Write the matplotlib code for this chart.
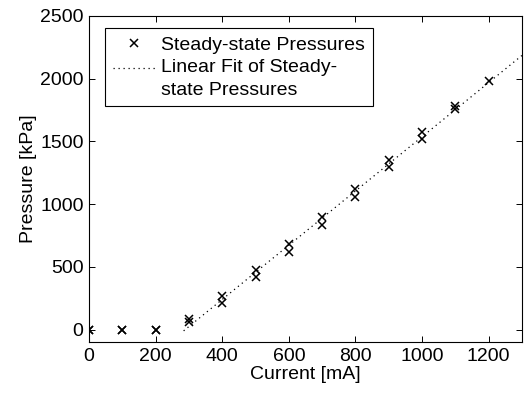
import matplotlib
matplotlib.use("Agg")
import matplotlib.pyplot as plt
from matplotlib.legend_handler import HandlerLine2D

# Measured steady-state pressures (two trials per current setting)
current_ma = [0, 0, 100, 100, 200, 200,
              300, 300, 400, 400, 500, 500,
              600, 600, 700, 700, 800, 800,
              900, 900, 1000, 1000, 1100, 1100, 1200]
pressure_kpa = [0, 0, 0, 0, 0, 0,
                88, 58, 268, 215, 472, 420,
                680, 622, 895, 835, 1120, 1060,
                1350, 1298, 1572, 1520, 1778, 1755, 1982]

# Linear fit endpoints
fit_current = [284, 1300]
fit_pressure = [-10, 2184]

xticks = [0, 200, 400, 600, 800, 1000, 1200]
yticks = [0, 500, 1000, 1500, 2000, 2500]

plt.rcParams["font.family"] = ["Liberation Sans", "DejaVu Sans"]
plt.rcParams["font.size"] = 14


class FirstLineHandler(HandlerLine2D):
    """Place the legend line level with the first line of a two-line label."""

    def __init__(self, shift, **kw):
        super().__init__(**kw)
        self.shift = shift

    def create_artists(self, legend, orig_handle, xdescent, ydescent,
                       width, height, fontsize, trans):
        arts = super().create_artists(legend, orig_handle, xdescent,
                                      ydescent, width, height, fontsize,
                                      trans)
        for a in arts:
            y = a.get_ydata()
            a.set_ydata([v + self.shift for v in y])
        return arts


fig = plt.figure(figsize=(5.24, 3.96), dpi=100)
ax = fig.add_axes([0.170, 0.136, 0.826, 0.824])

ax.plot(current_ma, pressure_kpa, linestyle="none", marker="x",
        markersize=6, markeredgewidth=1.1, color="black",
        label="Steady-state Pressures")
fit_line, = ax.plot(fit_current, fit_pressure, color="black",
                    linewidth=0.9, linestyle=(0, (1, 3)),
                    label="Linear Fit of Steady-\nstate Pressures")

ax.set_xlim(0, 1300)
ax.set_ylim(-100, 2500)
ax.set_xticks(xticks)
ax.set_yticks(yticks)
ax.tick_params(direction="in", top=True, right=True, length=4,
               width=0.7, labelsize=14, pad=4)
for s in ax.spines.values():
    s.set_linewidth(0.8)

ax.set_xlabel("Current [mA]", fontsize=14, labelpad=1)
ax.set_ylabel("Pressure [kPa]", fontsize=14, labelpad=2)

leg = ax.legend(loc="upper left", bbox_to_anchor=(0.037, 0.962),
                frameon=True, fancybox=False, edgecolor="black",
                framealpha=1, fontsize=14, handlelength=2.2,
                handletextpad=0.3, borderpad=0.4, labelspacing=0.3,
                borderaxespad=0,
                handler_map={fit_line: FirstLineHandler(shift=8)})
leg.get_texts()[1].set_linespacing(1.4)
leg.get_frame().set_linewidth(0.8)

fig.savefig("out.png", dpi=100)
